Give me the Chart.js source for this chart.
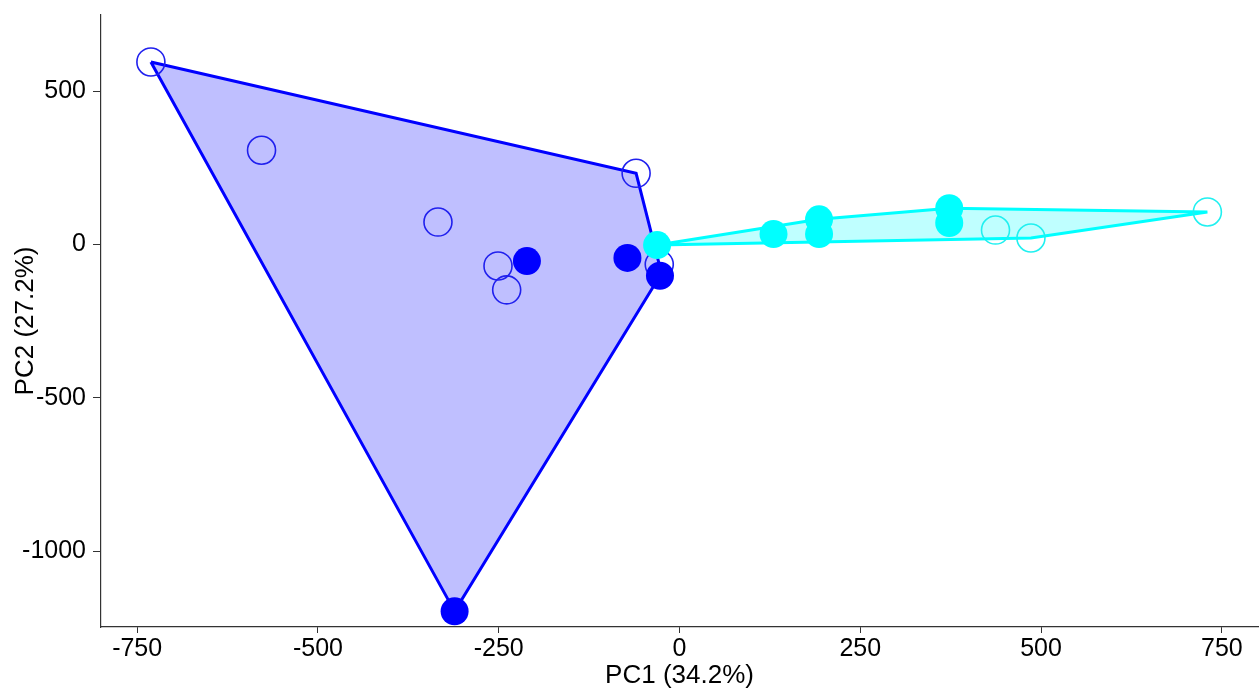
<!DOCTYPE html>
<html>
<head>
<meta charset="utf-8">
<script src="https://cdn.jsdelivr.net/npm/chart.js@4.4.1/dist/chart.umd.min.js"></script>
<style>
  html, body { margin: 0; padding: 0; background: #ffffff; }
  #wrap { width: 1260px; height: 693px; position: relative; }
</style>
</head>
<body>
<div id="wrap"><canvas id="c" width="1260" height="693"></canvas></div>
<script>
// ---- data (PC1, PC2) ----
const blueOpenX   = [-731, -578, -334, -60, -251, -239, -28];
const blueOpenY   = [ 595,  307,   73, 232,  -70, -148, -65];
const blueFilledX = [-211, -72, -27, -311];
const blueFilledY = [ -54, -44, -102, -1196];
const cyanOpenX   = [437, 486, 730];
const cyanOpenY   = [ 47,  21, 106];
const cyanFilledX = [-31, 130, 193, 193, 373, 373];
const cyanFilledY = [ -2,  34,  82,  34, 118,  70];

const xTicks = [-750, -500, -250, 0, 250, 500, 750];
const yTicks = [-1000, -500, 0, 500];
const xTitle = 'PC1 (34.2%)';
const yTitle = 'PC2 (27.2%)';

function pts(xs, ys) { return xs.map((x, i) => ({ x: x, y: ys[i] })); }

// convex hull (monotone chain) in data space
function hull(points) {
  const p = points.slice().sort((a, b) => a.x - b.x || a.y - b.y);
  const cross = (o, a, b) => (a.x - o.x) * (b.y - o.y) - (a.y - o.y) * (b.x - o.x);
  const lower = [], upper = [];
  for (const q of p) {
    while (lower.length >= 2 && cross(lower[lower.length - 2], lower[lower.length - 1], q) <= 0) lower.pop();
    lower.push(q);
  }
  for (let i = p.length - 1; i >= 0; i--) {
    const q = p[i];
    while (upper.length >= 2 && cross(upper[upper.length - 2], upper[upper.length - 1], q) <= 0) upper.pop();
    upper.push(q);
  }
  upper.pop(); lower.pop();
  const h = lower.concat(upper);
  h.push(h[0]);
  return h;
}

const blueAll = pts(blueOpenX, blueOpenY).concat(pts(blueFilledX, blueFilledY));
const cyanAll = pts(cyanOpenX, cyanOpenY).concat(pts(cyanFilledX, cyanFilledY));

const BLUE = '#0000FF';
const CYAN = '#00FFFF';

const fontFam = '"Liberation Sans", Arial, sans-serif';

new Chart(document.getElementById('c'), {
  type: 'scatter',
  data: {
    datasets: [
      { type: 'line', data: hull(blueAll), borderColor: BLUE, borderWidth: 3,
        backgroundColor: 'rgba(0,0,255,0.25)', fill: 'shape', pointRadius: 0,
        tension: 0, order: 5, showLine: true },
      { type: 'line', data: hull(cyanAll), borderColor: CYAN, borderWidth: 3,
        backgroundColor: 'rgba(0,255,255,0.25)', fill: 'shape', pointRadius: 0,
        tension: 0, order: 4, showLine: true },
      { data: pts(blueOpenX, blueOpenY), pointRadius: 14, pointBorderWidth: 1.6,
        pointBorderColor: '#2020EE', pointBackgroundColor: 'rgba(0,0,0,0)', order: 3 },
      { data: pts(blueFilledX, blueFilledY), pointRadius: 14, pointBorderWidth: 0,
        pointBackgroundColor: BLUE, pointBorderColor: BLUE, order: 2 },
      { data: pts(cyanOpenX, cyanOpenY), pointRadius: 14, pointBorderWidth: 1.6,
        pointBorderColor: '#20F0F0', pointBackgroundColor: 'rgba(0,0,0,0)', order: 1 },
      { data: pts(cyanFilledX, cyanFilledY), pointRadius: 14, pointBorderWidth: 0,
        pointBackgroundColor: CYAN, pointBorderColor: CYAN, order: 0 }
    ]
  },
  options: {
    responsive: false,
    animation: false,
    devicePixelRatio: 1,
    clip: false,
    layout: { autoPadding: false, padding: { top: 15, right: 2, left: 0, bottom: 0 } },
    plugins: { legend: { display: false }, tooltip: { enabled: false } },
    elements: { point: { hoverRadius: 14 } },
    scales: {
      x: {
        type: 'linear', min: -800, max: 800,
        afterBuildTicks: s => { s.ticks = xTicks.map(v => ({ value: v })); },
        afterFit: s => { s.height = 66; s.paddingRight = 0; s.paddingLeft = 0; },
        grid: { display: true, drawOnChartArea: false, drawTicks: true, tickLength: 6, tickColor: '#333333' },
        border: { display: true, color: '#333333', width: 1.2 },
        ticks: { color: '#000000', font: { family: fontFam, size: 25 }, padding: 1, maxRotation: 0,
                 callback: v => String(v) },
        title: { display: true, text: xTitle, color: '#000000', font: { family: fontFam, size: 26 },
                 padding: { top: 0, bottom: 2 } }
      },
      y: {
        type: 'linear', min: -1247, max: 748,
        afterBuildTicks: s => { s.ticks = yTicks.map(v => ({ value: v })); },
        afterFit: s => { s.width = 101; s.paddingTop = 0; s.paddingBottom = 0; },
        grid: { display: true, drawOnChartArea: false, drawTicks: true, tickLength: 8, tickColor: '#333333' },
        border: { display: true, color: '#333333', width: 1.2 },
        ticks: { color: '#000000', font: { family: fontFam, size: 25 }, padding: 7,
                 callback: v => String(v) },
        title: { display: true, text: yTitle, color: '#000000', font: { family: fontFam, size: 26 },
                 padding: { top: 10, bottom: 0 } }
      }
    }
  }
});
</script>
</body>
</html>
